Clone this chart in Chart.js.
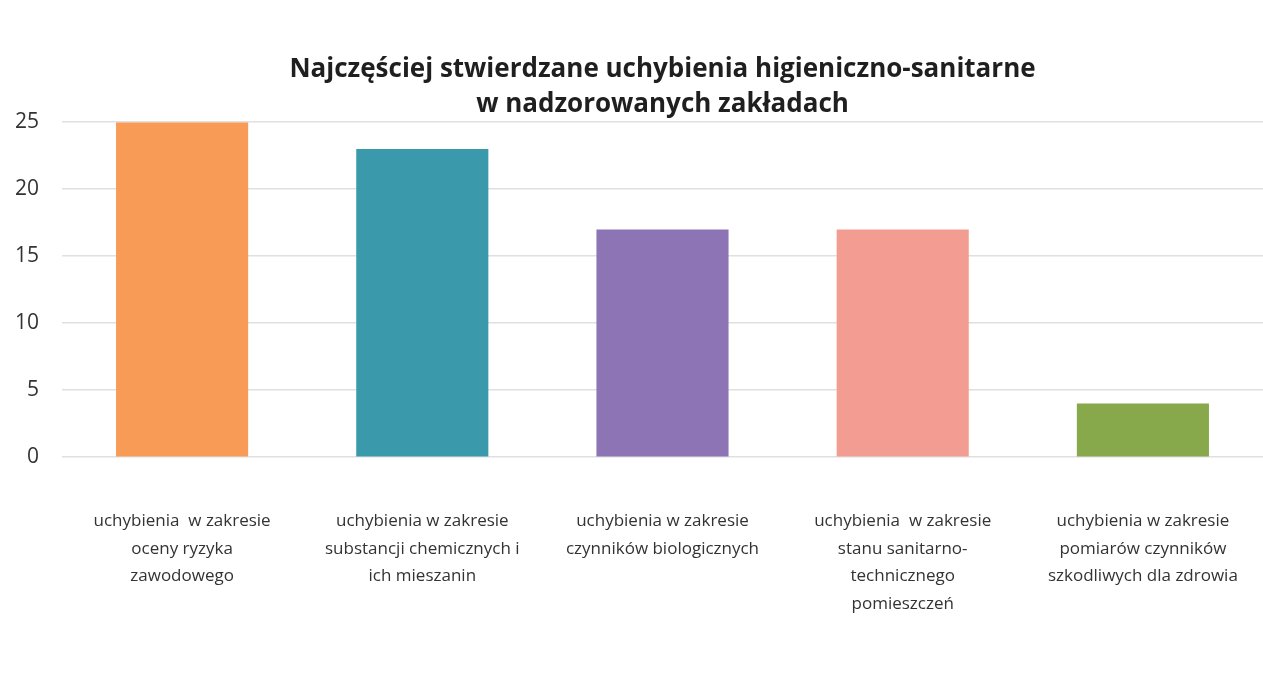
<!DOCTYPE html>
<html>
<head>
<meta charset="utf-8">
<script src="https://cdn.jsdelivr.net/npm/chart.js@4"></script>
<style>
  html, body { margin: 0; padding: 0; background: #fff; }
  #wrap { width: 1263px; height: 699px; }
</style>
</head>
<body>
<div id="wrap"><canvas id="barChart"></canvas></div>
<script>
// categories (multi-line labels as in the original)
var categories = [
    ['uchybienia  w zakresie', 'oceny ryzyka', 'zawodowego'],
    ['uchybienia w zakresie', 'substancji chemicznych i', 'ich mieszanin'],
    ['uchybienia w zakresie', 'czynników biologicznych'],
    ['uchybienia  w zakresie', 'stanu sanitarno-', 'technicznego', 'pomieszczeń'],
    ['uchybienia w zakresie', 'pomiarów czynników', 'szkodliwych dla zdrowia']
];
var counts = [25, 23, 17, 17, 4];
var barColors = ['#F79B57', '#3A9AAB', '#8C74B5', '#F39C91', '#87A94B'];
var titleLines = ['Najczęściej stwierdzane uchybienia higieniczno-sanitarne', 'w nadzorowanych zakładach'];

document.addEventListener("DOMContentLoaded", function () {
    var ctx = document.getElementById('barChart').getContext('2d');
    new Chart(ctx, {
        type: 'bar',
        data: {
            labels: categories,
            datasets: [{
                data: counts,
                backgroundColor: barColors,
                borderWidth: 0,
                categoryPercentage: 1,
                barPercentage: 0.55
            }]
        },
        options: {
            responsive: true,
            maintainAspectRatio: false,
            animation: false,
            layout: {
                padding: { left: 15, right: 0, top: 0, bottom: 31 }
            },
            plugins: {
                legend: { display: false },
                tooltip: { enabled: false },
                title: {
                    display: true,
                    fullSize: false, // centre over the plot area like the original
                    text: titleLines,
                    color: '#1f1f1f',
                    font: { family: 'Open Sans', size: 26, weight: 'bold', lineHeight: 1.35 },
                    padding: { top: 52, bottom: 0 }
                }
            },
            scales: {
                x: {
                    grid: { display: false, drawTicks: false },
                    border: { display: false },
                    ticks: {
                        color: '#333',
                        font: { family: 'Open Sans', size: 17, lineHeight: 1.63 },
                        padding: 50,
                        maxRotation: 0,
                        autoSkip: false
                    },
                    afterFit: function (scale) {
                        scale.paddingLeft = 0;
                        scale.paddingRight = 0;
                    }
                },
                y: {
                    min: 0,
                    max: 25,
                    grid: { color: '#e0e0e0', lineWidth: 1.5, drawTicks: false },
                    border: { display: false },
                    ticks: {
                        stepSize: 5,
                        color: '#333',
                        font: { family: 'Open Sans', size: 21 },
                        padding: 23
                    },
                    afterFit: function (scale) {
                        scale.width = 47; // label + gap, plot starts near x=62
                    }
                }
            }
        }
    });
});
</script>
</body>
</html>
